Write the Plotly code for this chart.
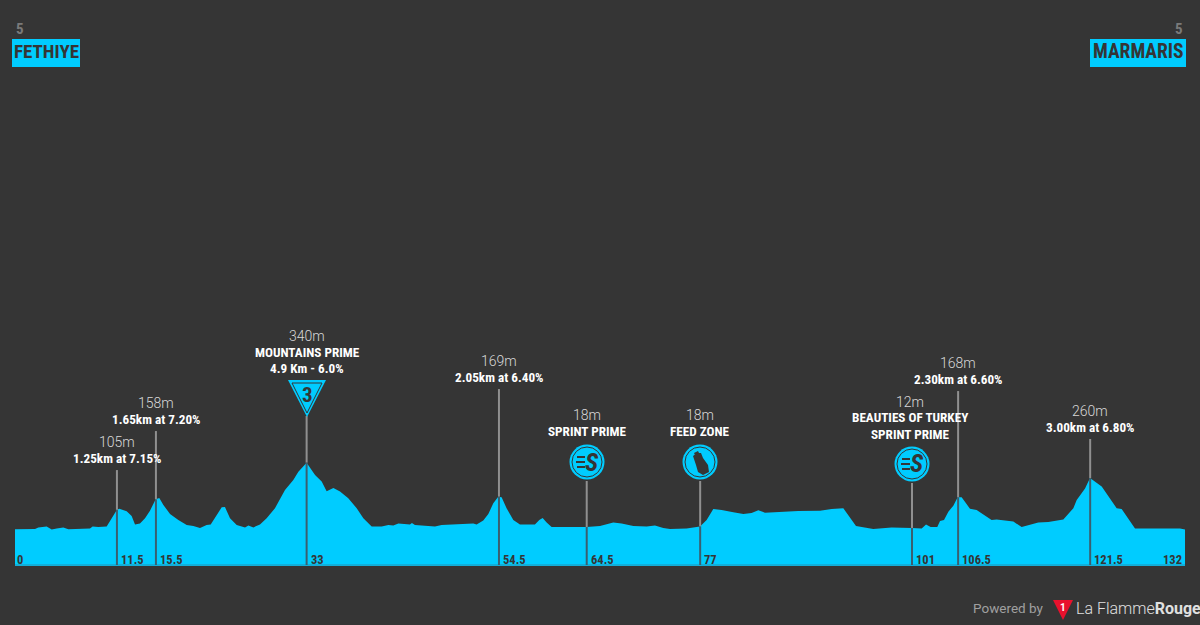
import plotly.graph_objects as go

km = [0, 2.26, 2.63, 3.57, 4.14, 4.7, 5.45, 6.02, 8.46, 8.76, 9.4, 10.34, 10.9, 11.5, 11.77, 12.6, 13.16, 13.54,
      14.1, 14.67, 15.23, 15.87, 16.28, 16.74, 17.49, 18.43, 19.37, 20.12, 20.87, 21.62, 22.08, 22.75, 23.32, 23.69,
      24.26, 25.01, 25.95, 26.33, 26.89, 27.64, 28.39, 29.33, 30.46, 31.4, 31.97, 32.9, 33.85, 34.6, 35.16, 35.92,
      36.67, 37.6, 38.55, 39.3, 40.24, 41.37, 42.12, 42.68, 43.25,
      44.56, 44.78, 45.12, 47.38, 48.13, 51.7, 52.08, 52.83, 53.4, 53.96, 54.52, 54.9, 55.46, 56.22, 56.97, 58.66,
      59.15, 59.53, 59.98, 60.54, 64.49, 66, 67.5, 68.44, 69.76, 71.26, 72.2, 73.14, 73.9, 75.77, 77.28, 78.03,
      78.78, 79.72, 81.04, 82.17, 83.1, 83.86, 84.61, 86.68, 88.37,
      90.82, 92.13, 93.45, 94.2, 94.88, 96.83, 98.9, 101.16, 102.29, 102.78, 103.3, 104.05, 104.36, 104.81, 105.3,
      105.86, 106.35, 106.8, 107.74, 108.49, 110.18, 110.75, 112.63, 113.57, 115.45, 116.58, 118.27, 119.4, 119.78,
      120.72, 121.28, 122.6, 124.29, 124.85, 126.36, 127.86, 129.93, 131.43, 132]
elev = [6, 8, 15, 21, 5, 11, 15, 6, 11, 21, 18, 20, 62, 104, 110, 97, 73, 31,
        36, 62, 100, 157, 164, 129, 83, 53, 28, 23, 13, 28, 30, 78, 117, 118,
        62, 28, 15, 25, 16, 31, 62, 112, 204, 254, 296, 341, 279, 246, 197, 214,
        196, 162, 112, 62, 20, 20, 28, 25, 36,
        30, 38, 28, 21, 28, 36, 31, 50, 83, 137, 170, 167, 112, 53, 31, 30,
        53, 63, 41, 18, 18, 23, 40, 36, 23, 20, 26, 13, 8, 11, 21, 53,
        108, 103, 92, 83, 88, 102, 90, 95, 98,
        100, 108, 112, 62, 23, 8, 16, 13, 11, 31, 18, 18, 48, 53, 95,
        125, 167, 167, 110, 103, 53, 56, 45, 18, 41, 43, 56, 112, 154,
        212, 264, 221, 112, 108, 11, 11, 10, 10, 5]

# markers along the route
marker_km = [11.5, 15.9, 32.9, 54.6, 64.5, 77.3, 101.2, 106.4, 121.3]
marker_elev = [104, 157, 341, 170, 18, 21, 13, 167, 264]
marker_top = [304, 500, 576, 711, 249, 249, 239, 701, 460]
marker_labels = ["11.5", "15.5", "33", "54.5", "64.5", "77", "101", "106.5", "121.5"]
height_labels = ["105m", "158m", "340m", "169m", "18m", "18m", "12m", "168m", "260m"]
detail_labels = [["1.25km at 7.15%"], ["1.65km at 7.20%"], ["MOUNTAINS PRIME", "4.9 Km - 6.0%"], ["2.05km at 6.40%"],
                 ["SPRINT PRIME"], ["FEED ZONE"], ["BEAUTIES OF TURKEY", "SPRINT PRIME"], ["2.30km at 6.60%"],
                 ["3.00km at 6.80%"]]

BG = "#353535"
CYAN = "#00ccff"
NARROW = "Roboto Condensed, Open Sans Condensed, DejaVu Sans Condensed, sans-serif"
THIN = "Roboto"
BASE = -173

# the plot area fills the whole page, so page pixels map straight onto paper coords
def px(x):
    return x / 1200

def py(y):
    return 1 - y / 625

def path(points):
    return "M " + " L ".join(f"{px(x)},{py(y)}" for x, y in points) + " Z"

def text(x, y, s, size=13, color="white", family=NARROW, weight=700, anchor="center"):
    return dict(text=s, x=px(x), y=py(y), xref="paper", yref="paper", showarrow=False, xanchor=anchor, yanchor="middle",
                font=dict(size=size, color=color, family=family, weight=weight))

def circle(x, y, r, fill=None, line=None, width=0):
    return dict(type="circle", xref="paper", yref="paper", x0=px(x - r), x1=px(x + r), y0=py(y + r), y1=py(y - r),
                fillcolor=fill or "rgba(0,0,0,0)", line=dict(color=line or "rgba(0,0,0,0)", width=width), layer="above")

def solid(points, fill):
    return dict(type="path", xref="paper", yref="paper", path=path(points), fillcolor=fill, line=dict(width=0), layer="above")

def bar(x0, x1, y):
    return dict(type="line", xref="paper", yref="paper", x0=px(x0), x1=px(x1), y0=py(y), y1=py(y),
                line=dict(color=BG, width=2), layer="above")

def sprint_icon(x, y):
    shapes = [circle(x, y, 17.5, fill=CYAN), circle(x, y, 15, line=BG, width=1)]
    shapes += [bar(x - 10, x - 2, y - 5), bar(x - 11, x - 2, y), bar(x - 10, x - 2, y + 5)]
    return shapes

fig = go.Figure()

# area of the profile
fig.add_trace(go.Scatter(x=[km[0]] + km + [km[-1]], y=[BASE] + elev + [BASE], mode="lines", fill="toself",
                         fillcolor=CYAN, line=dict(width=0, color=CYAN), hoverinfo="skip", showlegend=False))
fig.add_trace(go.Scatter(x=[km[0], km[-1]], y=[BASE, BASE], mode="lines", line=dict(color="#12aed9", width=2),
                         hoverinfo="skip", showlegend=False))

# marker sticks : grey in the air, dark inside the profile
for i in range(len(marker_km)):
    fig.add_trace(go.Scatter(x=[marker_km[i], marker_km[i]], y=[marker_elev[i], marker_top[i]], mode="lines",
                             line=dict(color="#909090", width=2), hoverinfo="skip", showlegend=False))
    fig.add_trace(go.Scatter(x=[marker_km[i], marker_km[i]], y=[BASE, marker_elev[i]], mode="lines",
                             line=dict(color="#3a5f70", width=2), hoverinfo="skip", showlegend=False))

anns = []
shapes = []

# stage start / finish
shapes.append(solid([(12, 39), (80, 39), (80, 67), (12, 67)], CYAN))
shapes.append(solid([(1090, 39), (1186, 39), (1186, 67), (1090, 67)], CYAN))
anns.append(text(14, 29, "5", size=15, color="#7a7a7a", anchor="left"))
anns.append(text(1185, 29, "5", size=15, color="#7a7a7a", anchor="right"))
anns.append(text(46, 52, "FETHIYE", size=19, color=BG))
anns.append(text(1138, 52, "MARMARIS", size=19.5, color=BG))

# label rows (page pixels of first row, centre of the text block)
label_x = [117, 156, 307, 499, 587, 700, 910, 958, 1090]
label_y = [442, 403, 336, 361, 415, 415, 402, 363, 411]
for i in range(len(label_x)):
    anns.append(text(label_x[i], label_y[i], height_labels[i], size=14, color="#d8d8d8", family=THIN, weight=300))
    for j, row in enumerate(detail_labels[i]):
        anns.append(text(label_x[i], label_y[i] + 16 * (j + 1), row, size=13.2))

# km numbers inside the profile
for i in range(len(marker_km)):
    anns.append(dict(text=marker_labels[i], x=marker_km[i], y=py(559), xref="x", yref="paper", xshift=2, showarrow=False,
                     xanchor="left", yanchor="middle", font=dict(size=12.5, color=BG, family=NARROW, weight=700)))
anns.append(text(15, 559, "0", size=12.5, color=BG, anchor="left"))
anns.append(text(1184, 559, "132", size=12.5, color=BG, anchor="right"))

# category 3 triangle
shapes.append(solid([(288, 380), (326, 380), (307, 417)], CYAN))
shapes.append(dict(type="path", xref="paper", yref="paper", path=path([(292, 383), (322, 383), (307, 413)]),
                   fillcolor="rgba(0,0,0,0)", line=dict(color=BG, width=1), layer="above"))
anns.append(text(307, 395, "3", size=21, color=BG))

# sprint and feed icons
for x, y in [(587, 462), (912, 464)]:
    shapes += sprint_icon(x, y)
    anns.append(dict(text="<i>S</i>", x=px(x + 5), y=py(y), xref="paper", yref="paper", showarrow=False, xanchor="center",
                     yanchor="middle", font=dict(size=25, color=BG, family=NARROW, weight=700)))
shapes.append(circle(700, 462, 17.5, fill=CYAN))
shapes.append(circle(700, 462, 15, line=BG, width=1))
shapes.append(solid([(693, 456), (697, 453), (701, 453), (703, 458), (708, 465), (709, 472), (703, 475), (698, 472),
                     (696, 465)], BG))
shapes.append(solid([(694, 453), (698, 451), (699, 453), (695, 455)], BG))

# footer logo
anns.append(text(971, 608, "Powered by", size=13.5, color="#a0a0a0", family=THIN, weight=400, anchor="left"))
shapes.append(solid([(1053, 600), (1073, 600), (1063, 620)], "#e8112d"))
anns.append(text(1063, 607, "1", size=10, color="white", family="Roboto"))
anns.append(text(1074, 608, "La Flamme<b>Rouge</b>", size=16, color="#e0e0e0", family=THIN, weight=300, anchor="left"))

fig.update_layout(
    width=1200, height=625,
    margin=dict(l=0, r=0, t=0, b=0),
    paper_bgcolor=BG, plot_bgcolor=BG,
    showlegend=False,
    xaxis=dict(range=[-1.692, 133.69], visible=False, fixedrange=True),
    yaxis=dict(range=[-474.5, 2666], visible=False, fixedrange=True),
    annotations=anns,
    shapes=shapes,
)

# page default margin would push the chart off by 8px
fig.write_html("out.html", config={"displayModeBar": False},
               post_script="document.body.style.margin='0';document.body.style.overflow='hidden';")
